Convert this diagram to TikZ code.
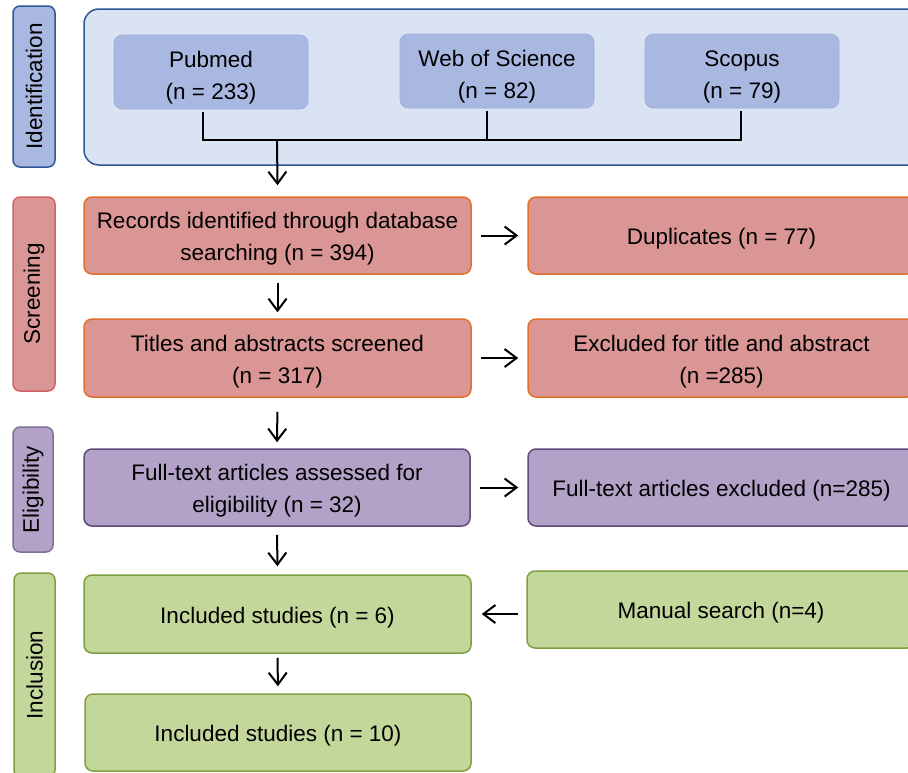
\documentclass[tikz,border=0pt]{standalone}
\usepackage{fontspec}
\setmainfont{Liberation Sans}
\usetikzlibrary{arrows.meta}
\definecolor{idfill}{HTML}{DAE3F3}
\definecolor{idbord}{HTML}{2F5597}
\definecolor{srcfill}{HTML}{A9B8E1}
\definecolor{srcbord}{HTML}{9DAEDC}
\definecolor{scrfill}{HTML}{DA9694}
\definecolor{scrbord}{HTML}{E0702C}
\definecolor{scrlab}{HTML}{D06464}
\definecolor{elfill}{HTML}{B3A2C7}
\definecolor{elbord}{HTML}{604A7B}
\definecolor{inclfill}{HTML}{C4D79B}
\definecolor{inclbord}{HTML}{7FA03F}
\tikzset{
  txt/.style={font=\fontsize{22.5}{32}\selectfont, align=center, text=black},
  box/.style={rounded corners=8pt, line width=1.5pt, inner sep=0pt},
  tbox/.style={box, label={[txt, yshift=-3.5pt]center:#1}},
  sbox/.style={box, label={[txt, yshift=-5.5pt]center:#1}},
  labelbox/.style={box, txt, rotate=90, minimum height=42pt, rounded corners=7pt},
  conn/.style={line width=2pt, black},
  arr/.style={conn, -{Straight Barb[length=12pt,width=18pt,line width=2pt]}},
}
\begin{document}
\begin{tikzpicture}[x=1pt,y=-1pt]
\useasboundingbox (0,0) rectangle (908,772);
\clip (0,0) rectangle (908,772);
\fill[white] (0,0) rectangle (908,772);
% Identification
\node[labelbox, fill=srcfill, draw=idbord, minimum width=161pt] (labid) at (34,86.5) {Identification};
\node[box, fill=idfill, draw=idbord, rounded corners=15pt, minimum width=840pt, minimum height=156pt] (idbox) at (504,87) {};
\node[sbox={{Pubmed\\(n = 233)}}, fill=srcfill, draw=srcbord, line width=0.6pt, minimum width=194pt, minimum height=74pt] (pub) at (211,72) {};
\node[sbox={{Web of Science\\(n = 82)}}, fill=srcfill, draw=srcbord, line width=0.6pt, minimum width=194pt, minimum height=74pt] (web) at (497,71) {};
\node[sbox={{Scopus\\(n = 79)}}, fill=srcfill, draw=srcbord, line width=0.6pt, minimum width=194pt, minimum height=74pt] (sco) at (742,71) {};
\coordinate (bus) at (277,140);
\draw[conn] ([xshift=-8pt,yshift=-3pt]pub.south) -- ([xshift=-8pt]pub.south |- bus) -| ([xshift=-1pt,yshift=-3pt]sco.south);
\draw[conn] ([xshift=-10pt,yshift=-3pt]web.south) -- ([xshift=-10pt]web.south |- bus);
% Screening
\node[labelbox, fill=scrfill, draw=scrlab, minimum width=194pt] (labscr) at (34,294) {Screening};
\node[tbox={{Records identified through database\\searching (n = 394)}}, fill=scrfill, draw=scrbord, minimum width=387pt, minimum height=77pt] (rec) at (277.5,235.5) {};
\node[tbox={{Duplicates (n = 77)}}, fill=scrfill, draw=scrbord, minimum width=387pt, minimum height=77pt] (dup) at (721.5,235.5) {};
\node[tbox={{Titles and abstracts screened\\(n = 317)}}, fill=scrfill, draw=scrbord, minimum width=387pt, minimum height=78pt] (tit) at (277.5,358) {};
\node[tbox={{Excluded for title and abstract\\(n =285)}}, fill=scrfill, draw=scrbord, minimum width=387pt, minimum height=78pt] (exc) at (721.5,358) {};
% Eligibility
\node[labelbox, fill=elfill, draw=elbord!80, minimum width=125pt, minimum height=40pt] (label) at (33,489.5) {Eligibility};
\node[tbox={{Full-text articles assessed for\\eligibility (n = 32)}}, fill=elfill, draw=elbord, minimum width=386pt, minimum height=77pt] (full) at (277,487.5) {};
\node[tbox={{Full-text articles excluded (n=285)}}, fill=elfill, draw=elbord, minimum width=387pt, minimum height=77pt] (fexc) at (721.5,487.5) {};
% Inclusion
\node[labelbox, fill=inclfill, draw=inclbord, minimum width=204pt, minimum height=41pt] (labinc) at (34.5,675) {Inclusion};
\node[tbox={{Included studies (n = 6)}}, fill=inclfill, draw=inclbord, minimum width=387pt, minimum height=78pt] (inc6) at (277.5,614) {};
\node[tbox={{Manual search (n=4)}}, fill=inclfill, draw=inclbord, minimum width=388pt, minimum height=77pt] (man) at (721,609.5) {};
\node[tbox={{Included studies (n = 10)}}, fill=inclfill, draw=inclbord, minimum width=386pt, minimum height=77pt] (inc10) at (278,732.5) {};
% arrows
\draw[arr] (bus) -- ([yshift=11pt]rec.north);
\draw[arr, shorten <=8pt, shorten >=6pt] (rec.south) -- (tit.north);
\draw[arr, shorten <=14pt, shorten >=6pt] (tit.south) -- (full.north);
\draw[arr, shorten <=8pt, shorten >=8pt] (full.south) -- (inc6.north);
\draw[arr, shorten <=4pt, shorten >=7pt] (inc6.south) -- (inc10.north);
\draw[arr, shorten <=9pt, shorten >=9pt] (rec.east) -- (dup.west);
\draw[arr, shorten <=9pt, shorten >=9pt] (tit.east) -- (exc.west);
\draw[arr, shorten <=9pt, shorten >=9pt] (full.east) -- (fexc.west);
\draw[arr, shorten <=8pt, shorten >=10pt] (man.west |- inc6.east) -- (inc6.east);
\end{tikzpicture}
\end{document}
